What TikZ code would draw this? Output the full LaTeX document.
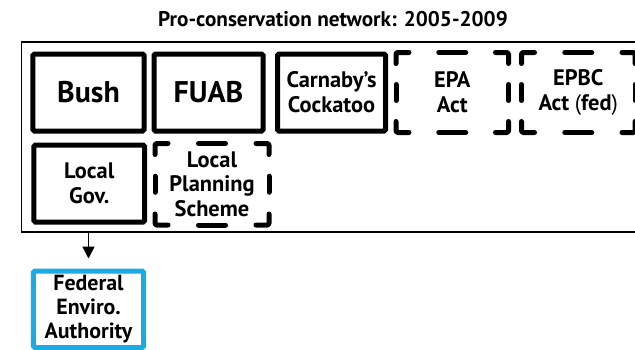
\documentclass[tikz,border=0pt]{standalone}
\usepackage{fontspec}
\setmainfont{PT Sans}
\usetikzlibrary{arrows.meta}
\definecolor{fedblue}{RGB}{28,170,228}
\tikzset{
  card/.style={draw, line width=5bp, rounded corners=1.5bp, minimum width=110bp,
    minimum height=77bp, inner sep=0pt, align=center,
    font=\bfseries\fontsize{22.5}{25}\selectfont},
  bigcard/.style={card, font=\bfseries\fontsize{30}{30}\selectfont},
  dcard/.style={card, draw=none},
  dashpiece/.style={line width=5bp, line cap=round, line join=round, rounded corners=1.5bp},
  framebox/.style={draw, line width=1.5bp, inner sep=0pt, minimum width=618.5bp, minimum height=190bp},
  link/.style={line width=1.5bp, -{Triangle[width=12bp,length=12bp]}},
  heading/.style={font=\bfseries\fontsize{21.3}{26}\selectfont, anchor=base, inner sep=0pt}
}
% broken outline: L-shaped corners plus one dash in the middle of each side
\newcommand\drawdashframe[1]{%
  \draw[dashpiece] ([yshift=-11bp]#1.north west) -- (#1.north west) -- ([xshift=13bp]#1.north west);
  \draw[dashpiece] ([xshift=-13bp]#1.north east) -- (#1.north east) -- ([yshift=-11bp]#1.north east);
  \draw[dashpiece] ([yshift=11bp]#1.south east) -- (#1.south east) -- ([xshift=-13bp]#1.south east);
  \draw[dashpiece] ([xshift=13bp]#1.south west) -- (#1.south west) -- ([yshift=11bp]#1.south west);
  \draw[dashpiece] ([xshift=-13.5bp]#1.north) -- ([xshift=13.5bp]#1.north);
  \draw[dashpiece] ([xshift=-13.5bp]#1.south) -- ([xshift=13.5bp]#1.south);
  \draw[dashpiece] ([yshift=8bp]#1.west) -- ([yshift=-8bp]#1.west);
  \draw[dashpiece] ([yshift=8bp]#1.east) -- ([yshift=-8bp]#1.east);
}
\begin{document}
\begin{tikzpicture}[x=1bp, y=-1bp]
  \clip (0,0) rectangle (635,349);
  \fill[white] (0,0) rectangle (635,349);

  \node[heading] (title) at (333,26.7) {Pro-conservation network: 2005-2009};

  \node[framebox] (frame) at (330.75,137) {};

  % first row
  \node[bigcard, minimum width=111bp] (bush) at (88.5,92.5) {Bush};
  \node[bigcard, minimum width=109bp] (fuab) at (208.5,92.5) {FUAB};
  \node[card, minimum width=108bp] (carnaby) at (331.5,92.5) {Carnaby's\\Cockatoo};
  \node[dcard, minimum width=107.5bp, minimum height=75bp] (epa) at (452.25,92.5) {EPA\\Act};
  \node[dcard, minimum width=108.5bp, minimum height=75bp] (epbc) at (578.25,92.5)
    {EPBC\\Act {\mdseries(}fed{\mdseries)}};

  % second row
  \node[card, minimum width=110.5bp] (localgov) at (89.25,183.5) {Local\\Gov.};
  \node[dcard, minimum width=109bp, minimum height=76.5bp] (lps) at (212,184.25)
    {Local\\Planning\\Scheme};

  \drawdashframe{epa}
  \drawdashframe{epbc}
  \drawdashframe{lps}

  % outside the network
  \node[card, draw=fedblue, minimum width=110.4bp, minimum height=76.5bp,
    font=\bfseries\fontsize{22}{24}\selectfont]
    (fed) at (88.5,309.25) {Federal\\Enviro.\\Authority};

  \draw[link, shorten >=10bp] (frame.south -| fed.north) -- (fed.north);
\end{tikzpicture}
\end{document}
